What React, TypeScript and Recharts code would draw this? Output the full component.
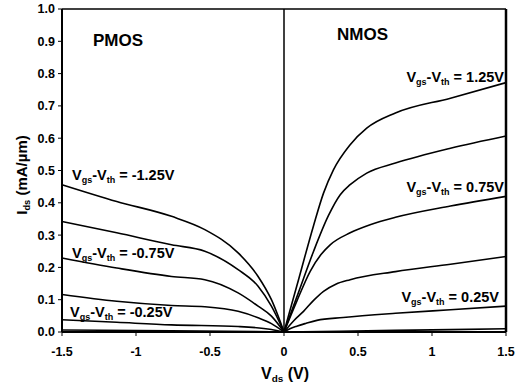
import React from "react";
import { LineChart, Line, XAxis, YAxis, ReferenceLine } from "recharts";

// I-V curves: [Vds, Ids]
const nmos125 = [[0, 0], [0.1, 0.165], [0.2, 0.33], [0.267, 0.43], [0.334, 0.502], [0.447, 0.58], [0.559, 0.631], [0.753, 0.678], [1.125, 0.724], [1.5, 0.772]];
const nmos100 = [[0, 0], [0.1, 0.125], [0.2, 0.25], [0.3, 0.36], [0.38, 0.425], [0.447, 0.456], [0.559, 0.492], [0.753, 0.523], [1.125, 0.569], [1.5, 0.607]];
const nmos075 = [[0, 0], [0.086, 0.095], [0.177, 0.188], [0.25, 0.24], [0.312, 0.27], [0.447, 0.307], [0.582, 0.332], [0.753, 0.355], [1.125, 0.39], [1.5, 0.42]];
const nmos050 = [[0, 0], [0.066, 0.035], [0.132, 0.064], [0.2, 0.098], [0.267, 0.126], [0.35, 0.148], [0.447, 0.162], [0.753, 0.187], [1.125, 0.21], [1.5, 0.234]];
const nmos025 = [[0, 0], [0.04, 0.01], [0.086, 0.018], [0.15, 0.027], [0.222, 0.036], [0.4, 0.045], [0.753, 0.058], [1.125, 0.069], [1.5, 0.08]];
const nmos000 = [[0, 0], [0.75, 0.005], [1.5, 0.01]];

const pmos125 = [[-1.5, 0.456], [-1.13, 0.404], [-0.76, 0.358], [-0.535, 0.317], [-0.31, 0.245], [-0.175, 0.172], [-0.085, 0.1], [0, 0]];
const pmos100 = [[-1.5, 0.342], [-1.13, 0.307], [-0.76, 0.27], [-0.535, 0.25], [-0.31, 0.193], [-0.175, 0.142], [-0.085, 0.08], [0, 0]];
const pmos075 = [[-1.5, 0.229], [-1.13, 0.198], [-0.76, 0.172], [-0.535, 0.162], [-0.31, 0.121], [-0.175, 0.08], [-0.085, 0.049], [0, 0]];
const pmos050 = [[-1.5, 0.116], [-1.13, 0.095], [-0.76, 0.082], [-0.535, 0.078], [-0.31, 0.064], [-0.175, 0.044], [-0.085, 0.026], [0, 0]];
const pmos025 = [[-1.5, 0.038], [-1.13, 0.03], [-0.76, 0.022], [-0.31, 0.017], [-0.085, 0.008], [0, 0]];
const pmos000 = [[-1.5, 0.006], [-0.76, 0.004], [0, 0]];

const curves = [nmos125, nmos100, nmos075, nmos050, nmos025, nmos000, pmos125, pmos100, pmos075, pmos050, pmos025, pmos000];

const xTicks = [-1.5, -1, -0.5, 0, 0.5, 1, 1.5];
const yTicks = [0, 0.1, 0.2, 0.3, 0.4, 0.5, 0.6, 0.7, 0.8, 0.9, 1.0];

const FONT = "'Liberation Sans', Arial, sans-serif";

function Sub({ children }: { children: React.ReactNode }) {
  return <span style={{ fontSize: "0.62em", position: "relative", top: "0.35em" }}>{children}</span>;
}

function VLabel({ value, style }: { value: string; style: React.CSSProperties }) {
  return (
    <div style={{ position: "absolute", fontSize: 14.5, fontWeight: 700, lineHeight: 1, whiteSpace: "nowrap", ...style }}>
      V<Sub>gs</Sub>-V<Sub>th</Sub> = {value}
    </div>
  );
}

export default function App() {
  return (
    <div style={{ position: "absolute", left: 0, top: 0, width: 518, height: 387, background: "#fff", fontFamily: FONT, color: "#000" }}>
      <LineChart width={518} height={387} margin={{ top: 9, right: 12, bottom: 0, left: 0 }} style={{ fontFamily: FONT }}>
        <XAxis
          type="number"
          dataKey="x"
          domain={[-1.5, 1.5]}
          ticks={xTicks}
          allowDuplicatedCategory={false}
          height={55}
          tickSize={4}
          tickMargin={11}
          tick={{ fill: "#000", fontSize: 12.5, fontWeight: 700 }}
          stroke="#000"
          axisLine={{ stroke: "#000", strokeWidth: 2 }}
        />
        <YAxis
          type="number"
          dataKey="y"
          domain={[0, 1]}
          ticks={yTicks}
          width={62}
          tickSize={4}
          tickMargin={3}
          tickFormatter={(v: number) => v.toFixed(1)}
          tick={{ fill: "#000", fontSize: 12.5, fontWeight: 700 }}
          stroke="#000"
          axisLine={{ stroke: "#000", strokeWidth: 2 }}
        />
        <ReferenceLine y={1} stroke="#000" strokeWidth={1.5} />
        <ReferenceLine x={1.5} stroke="#000" strokeWidth={2.5} />
        <ReferenceLine x={0} stroke="#000" strokeWidth={1.5} />
        {curves.map((c, i) => (
          <Line
            key={i}
            data={c.map(([x, y]) => ({ x, y }))}
            dataKey="y"
            type="monotone"
            stroke="#000"
            strokeWidth={1.6}
            dot={false}
            isAnimationActive={false}
          />
        ))}
      </LineChart>

      <div style={{ position: "absolute", left: 93, top: 32, fontSize: 17, fontWeight: 700, lineHeight: 1 }}>PMOS</div>
      <div style={{ position: "absolute", left: 337, top: 26, fontSize: 17, fontWeight: 700, lineHeight: 1 }}>NMOS</div>

      <VLabel value="1.25V" style={{ right: 14, top: 70 }} />
      <VLabel value="0.75V" style={{ right: 14, top: 180 }} />
      <VLabel value="0.25V" style={{ right: 19, top: 290 }} />
      <VLabel value="-1.25V" style={{ left: 72, top: 168 }} />
      <VLabel value="-0.75V" style={{ left: 72, top: 246 }} />
      <VLabel value="-0.25V" style={{ left: 70, top: 305 }} />

      <div style={{ position: "absolute", left: 285, top: 374, transform: "translate(-50%, -50%)", fontSize: 16, fontWeight: 700, whiteSpace: "nowrap" }}>
        V<Sub>ds</Sub> (V)
      </div>
      <div style={{ position: "absolute", left: 21, top: 175, transform: "translate(-50%, -50%) rotate(-90deg)", fontSize: 15, fontWeight: 700, whiteSpace: "nowrap" }}>
        I<Sub>ds</Sub> (mA/µm)
      </div>
    </div>
  );
}
